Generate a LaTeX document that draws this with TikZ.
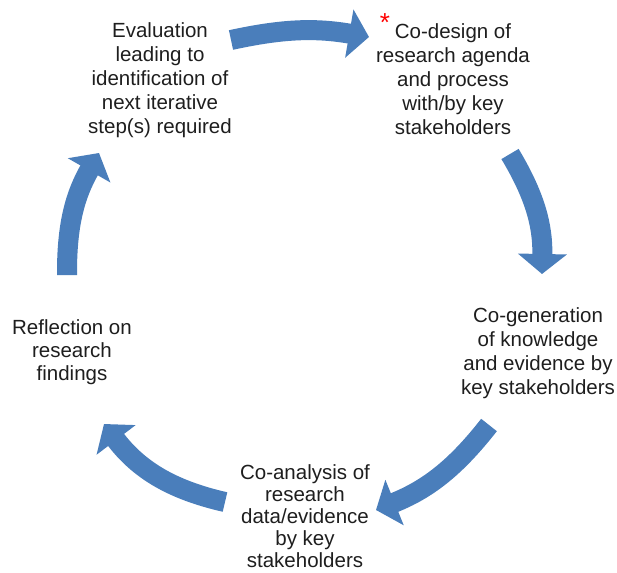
\documentclass[tikz,border=0pt]{standalone}
\usepackage{fontspec}
\setmainfont{Liberation Sans}
\usetikzlibrary{arrows.meta}
\definecolor{cycblue}{RGB}{74,126,187}
\definecolor{inkgray}{RGB}{30,30,30}
\tikzset{
  stage/.style={align=center, anchor=north, inner sep=0pt, text=inkgray, font=\fontsize{20.5}{24}\selectfont},
  cyc/.style={draw=cycblue, line width=20pt, -{Triangle[length=20pt,width=48pt]}}
}
\begin{document}
\begin{tikzpicture}[x=1pt, y=-1pt]
  \useasboundingbox (0,0) rectangle (617,572);
  \node (eval) at (160,22) [stage]{Evaluation\\leading to\\identification of\\next iterative\\step(s) required};
  \node (codesign) at (453,23) [stage]{Co-design of\\research agenda\\and process\\with/by key\\stakeholders};
  \node (star) at (385,23) [inner sep=0pt, text=red, font=\fontsize{26}{26}\selectfont]{*};
  \node (cogen) at (538,307) [stage]{Co-generation\\of knowledge\\and evidence by\\key stakeholders};
  \node (coanal) at (305,464) [stage, font=\fontsize{20.5}{22}\selectfont]{Co-analysis of\\research\\data/evidence\\by key\\stakeholders};
  \node (reflect) at (72,319) [stage, font=\fontsize{20.5}{23}\selectfont]{Reflection on\\research\\findings};
  \coordinate (t1) at (231,40);
  \coordinate (h1) at (369,37);
  \coordinate (t2) at (510,154);
  \coordinate (h2) at (542,274);
  \coordinate (t3) at (489,425);
  \coordinate (h3) at (376,510);
  \coordinate (t4) at (225,502);
  \coordinate (h4) at (104,424);
  \coordinate (t5) at (67,275);
  \coordinate (h5) at (99,153);
  \draw[cyc] (t1) to[bend left=11] (h1);
  \draw[cyc] (t2) to[bend left=16] (h2);
  \draw[cyc] (t3) to[bend left=15] (h3);
  \draw[cyc] (t4) to[bend left=20] (h4);
  \draw[cyc] (t5) to[bend left=15] (h5);
\end{tikzpicture}
\end{document}
